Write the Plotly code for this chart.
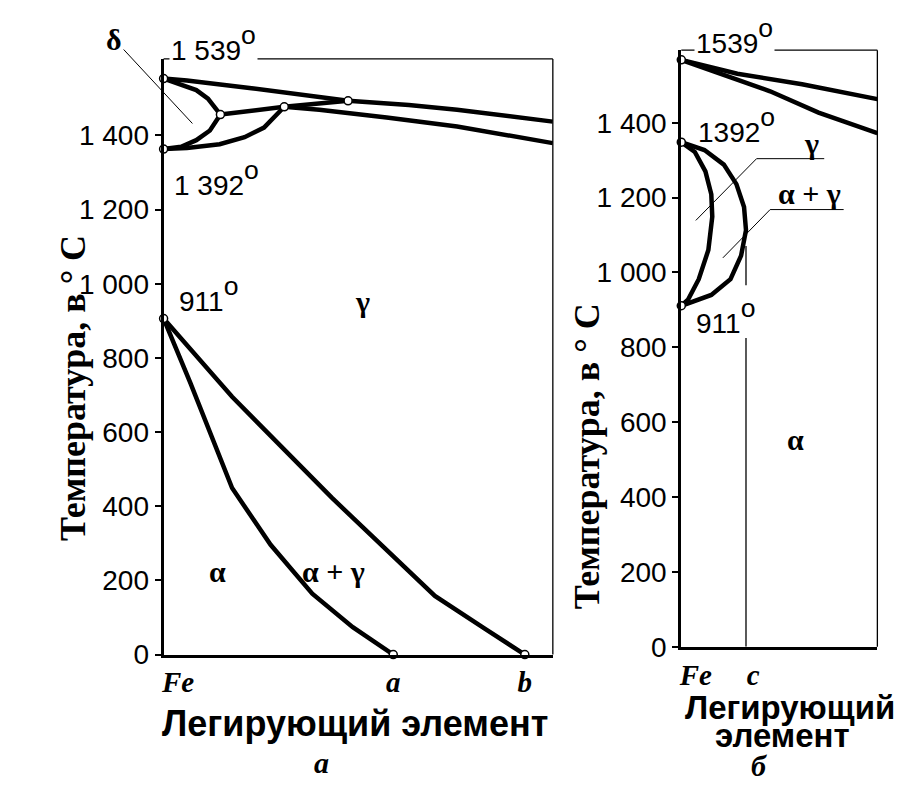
import plotly.graph_objects as go

# ---------------- data ----------------
T_TICKS = [0, 200, 400, 600, 800, 1000, 1200, 1400]
T_TICK_LABELS = ["0", "200", "400", "600", "800", "1 000", "1 200", "1 400"]

# panel a (x: share of the axis, 0..100)
a_liq_x = [0, 6.0, 22.6, 39.2, 47.4, 63.0, 75.4, 100]
a_liq_t = [1553, 1548, 1527, 1506, 1493, 1482, 1469, 1437]
a_sol_x = [31.0, 40.0, 57.3, 75.4, 100]
a_sol_t = [1477, 1469, 1448, 1424, 1379]
a_per_x = [31.0, 47.4]
a_per_t = [1477, 1493]
a_dup_x = [0, 4.5, 8.4, 11.4, 13.4, 14.6]
a_dup_t = [1553, 1537, 1522, 1499, 1474, 1456]
a_dlo_x = [0, 4.5, 8.4, 11.9, 14.6]
a_dlo_t = [1363, 1369, 1387, 1413, 1456]
a_mid_x = [14.6, 22.6, 31.0]
a_mid_t = [1456, 1466, 1477]
a_glo_x = [0, 6.0, 14.4, 20.8, 25.8, 31.0]
a_glo_t = [1363, 1366, 1376, 1395, 1421, 1477]
a_out_x = [0, 17.6, 43.2, 69.7, 82.6, 92.8]
a_out_t = [906, 695, 423, 158, 69, 0]
a_in_x = [0, 6.9, 17.6, 27.5, 38.2, 48.6, 59.0]
a_in_t = [906, 732, 449, 296, 164, 74, 0]
a_pts_x = [0, 0, 14.6, 31.0, 47.4, 0, 59.0, 92.8]
a_pts_t = [1553, 1363, 1456, 1477, 1493, 906, 0, 0]
a_comp = [0, 59.0, 92.8]
a_comp_labels = ["\u00a0\u00a0\u00a0\u00a0Fe", "a", "b"]

# panel б
b_liq_x = [0, 28.6, 61.6, 100]
b_liq_t = [1568, 1531, 1503, 1463]
b_sol_x = [0, 20.7, 45.3, 70.0, 100]
b_sol_t = [1568, 1531, 1484, 1427, 1372]
b_in_x = [0, 6.9, 12.3, 15.3, 15.8, 13.8, 8.9, 3.4, 0]
b_in_t = [1348, 1322, 1270, 1209, 1149, 1060, 982, 927, 911]
b_out_x = [0, 11.8, 21.7, 28.1, 32.0, 33.0, 30.5, 25.1, 15.3, 0]
b_out_t = [1348, 1327, 1288, 1236, 1175, 1113, 1045, 982, 940, 911]
b_pts_x = [0, 0, 0]
b_pts_t = [1568, 1348, 911]
b_comp = [0, 33.0]
b_comp_labels = ["\u00a0\u00a0\u00a0\u00a0Fe", "\u00a0\u00a0c"]
b_cline_x = [33.0, 33.0, None, 33.0, 33.0]
b_cline_t = [1071, 966, None, 825, 0]
b_lead_g_x = [7.4, 38.4, 72.9]
b_lead_g_t = [1139, 1304, 1304]
b_lead_ag_x = [21.2, 45.3, 82.8]
b_lead_ag_t = [1039, 1168, 1168]

# ---------------- figure ----------------
W, H = 908, 787
fig = go.Figure()
THICK = 4.5
K = "black"


def curve(x, y, xa="x", ya="y", w=THICK):
    fig.add_trace(go.Scatter(x=x, y=y, mode="lines", xaxis=xa, yaxis=ya,
                             line=dict(color=K, width=w), hoverinfo="skip",
                             showlegend=False))


for xs, ys in [(a_liq_x, a_liq_t), (a_sol_x, a_sol_t), (a_per_x, a_per_t),
               (a_dup_x, a_dup_t), (a_dlo_x, a_dlo_t), (a_mid_x, a_mid_t),
               (a_glo_x, a_glo_t), (a_out_x, a_out_t), (a_in_x, a_in_t)]:
    curve(xs, ys)

for xs, ys in [(b_liq_x, b_liq_t), (b_sol_x, b_sol_t), (b_in_x, b_in_t),
               (b_out_x, b_out_t)]:
    curve(xs, ys, "x2", "y2")
curve(b_cline_x, b_cline_t, "x2", "y2", 1.3)
curve(b_lead_g_x, b_lead_g_t, "x2", "y2", 1)
curve(b_lead_ag_x, b_lead_ag_t, "x2", "y2", 1)

mk = dict(symbol="circle", size=8, color="white", line=dict(color=K, width=1.5))
fig.add_trace(go.Scatter(x=a_pts_x, y=a_pts_t, mode="markers", marker=mk,
                         cliponaxis=False, showlegend=False, hoverinfo="skip"))
fig.add_trace(go.Scatter(x=b_pts_x, y=b_pts_t, mode="markers", marker=mk,
                         xaxis="x2", yaxis="y2", cliponaxis=False,
                         showlegend=False, hoverinfo="skip"))

SANS = "Liberation Sans"
SERIF = "Liberation Serif"
tickfont = dict(family=SANS, size=28, color=K)
xtickfont = dict(family=SERIF, size=29, color=K, weight="bold", style="italic")

yax = dict(range=[0, 1606], tickvals=T_TICKS, ticktext=T_TICK_LABELS,
           ticks="outside", ticklen=6, tickwidth=2, tickcolor=K,
           showline=True, linewidth=3, linecolor=K, showgrid=False,
           zeroline=False, tickfont=tickfont, fixedrange=True)
xax = dict(range=[0, 100], tickvals=a_comp, ticktext=a_comp_labels, ticks="",
           showline=True, linewidth=3, linecolor=K, showgrid=False,
           zeroline=False, tickfont=xtickfont, fixedrange=True)

fig.update_layout(
    width=W, height=H, margin=dict(l=0, r=0, t=0, b=0),
    paper_bgcolor="white", plot_bgcolor="white", showlegend=False,
    xaxis=dict(xax, domain=[129 / W, 532 / W], anchor="y"),
    yaxis=dict(yax, domain=[(H - 660) / H, (H - 52) / H], anchor="x"),
    xaxis2=dict(xax, domain=[665 / W, 868 / W], anchor="y2",
                tickvals=b_comp, ticktext=b_comp_labels),
    yaxis2=dict(yax, domain=[(H - 652) / H, (H - 43) / H], anchor="x2",
                range=[0, 1594]),
)

# thin top / right frame lines
for xr, yr in [("x domain", "y domain"), ("x2 domain", "y2 domain")]:
    fig.add_shape(type="line", xref=xr, yref=yr, x0=0, x1=1, y0=1, y1=1,
                  line=dict(color=K, width=1.3))
    fig.add_shape(type="line", xref=xr, yref=yr, x0=1, x1=1, y0=0, y1=1,
                  line=dict(color=K, width=1.3))

ann = []
DEG = "<span style='font-size:38px'><sup>o</sup></span>"


def txt(text, x, y, xref="x", yref="y", size=28, family=SANS, xanchor="left",
        bg=None, **kw):
    d = dict(text=text, x=x, y=y, xref=xref, yref=yref, showarrow=False,
             font=dict(family=family, size=size, color=K), xanchor=xanchor,
             yanchor="middle", **kw)
    if bg:
        d["bgcolor"] = bg
    ann.append(d)


# panel a texts
txt("1 539" + DEG, 1.5, 1600, bg="white", yshift=18)
txt("1 392" + DEG, 2.2, 1270, yshift=6)
txt("911" + DEG, 3.5, 965, yshift=3)
txt("<b>γ</b>", 51, 951, size=30, family=SERIF, xanchor="center")
txt("<b>α</b>", 13.9, 225, size=30, family=SERIF, xanchor="center")
txt("<b>α + γ</b>", 43.7, 225, size=30, family=SERIF, xanchor="center")
ann.append(dict(text="<b>δ</b>", x=7.4, y=1432, ax=-12.7, ay=1659,
                xref="x", yref="y", axref="x", ayref="y", showarrow=True,
                arrowhead=0, arrowwidth=1, arrowcolor=K, standoff=0,
                font=dict(family=SERIF, size=30, color=K)))

# panel б texts
txt("1539" + DEG, 6.4, 1590, "x2", "y2", bg="white", yshift=16)
txt("1392" + DEG, 7.4, 1385, "x2", "y2", yshift=3)
txt("911" + DEG, 6.4, 875, "x2", "y2", yshift=3)
txt("<b>γ</b>", 66.5, 1345, "x2", "y2", size=30, family=SERIF, xanchor="center")
txt("<b>α + γ</b>", 65.5, 1212, "x2", "y2", size=30, family=SERIF,
    xanchor="center")
txt("<b>α</b>", 58.1, 555, "x2", "y2", size=30, family=SERIF, xanchor="center")


def paper(text, px, py, size, family, angle=0):
    ann.append(dict(text=text, x=px / W, y=(H - py) / H, xref="paper",
                    yref="paper", showarrow=False, textangle=angle,
                    xanchor="center", yanchor="middle",
                    font=dict(family=family, size=size, color=K)))


ytitle = "<b>Температура, в ° С</b>"
paper(ytitle, 35, 388, 36, SERIF, -90)
paper(ytitle, 567, 458, 36, SERIF, -90)
paper("<b>Легирующий элемент</b>", 327, 730, 36, SANS)
paper("<b><i>a</i></b>", 292, 770, 30, SERIF)
paper("<b>Легирующий</b>", 778, 714, 33, SANS)
paper("<b>элемент</b>", 770, 743, 33, SANS)
paper("<b><i>б</i></b>", 745, 773, 30, SERIF)

fig.update_layout(annotations=ann)
fig.write_html("out.html")
